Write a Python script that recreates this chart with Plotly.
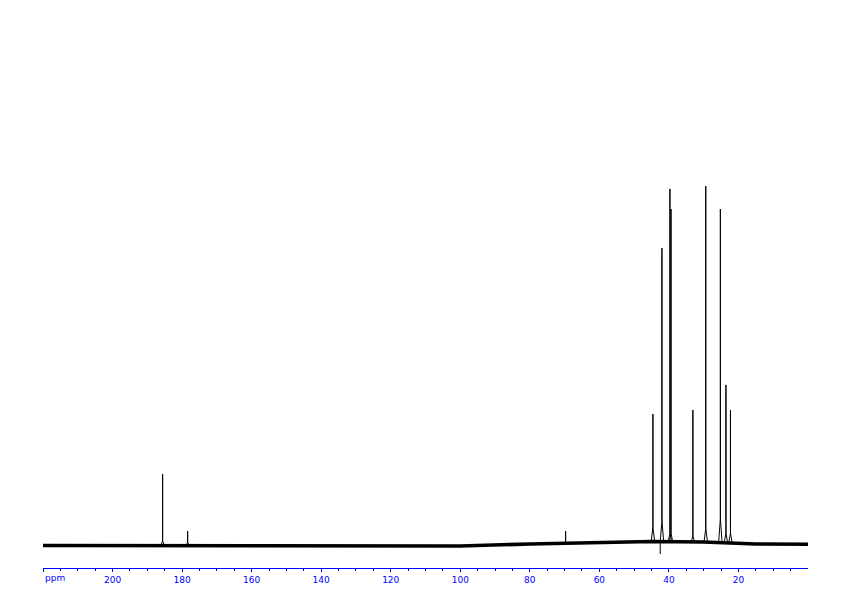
import numpy as np
import plotly.graph_objects as go

# --- data (13C NMR spectrum) ---
peak_ppm = [185.6, 178.4, 69.7, 44.6, 42.0, 39.7, 39.4, 33.1, 29.4, 25.2, 23.6, 22.3]
peak_top = [19.8, 3.9, 3.9, 36.5, 82.7, 99.2, 93.6, 37.6, 100.0, 93.6, 44.6, 37.6]
peak_foot = [1.2, 0.8, 0.8, 5.0, 6.7, 3.3, 3.3, 2.5, 4.7, 7.5, 3.3, 3.3]

neg_ppm = [42.5]
neg_level = [-2.5]

baseline_ppm = [220, 190, 160, 140, 120, 100, 80, 60, 45, 30, 15, 0]
baseline_level = [-0.1, -0.2, -0.3, -0.35, -0.4, -0.3, 0.3, 0.7, 1.0, 0.85, 0.3, 0.25]

major_ticks = [220, 200, 180, 160, 140, 120, 100, 80, 60, 40, 20]
major_labels = ["", "200", "180", "160", "140", "120", "100", "80", "60", "40", "20"]
minor_ticks = [v for v in range(215, 0, -5) if v % 20 != 0]

BLUE = "#0000ff"

fig = go.Figure()

# baseline (noise band)
fig.add_trace(go.Scatter(x=baseline_ppm, y=baseline_level, mode="lines",
                         line=dict(color="black", width=3.5), hoverinfo="skip"))

# peaks as sticks with a small foot
xs, ys = [], []
for p, top, foot in zip(peak_ppm, peak_top, peak_foot):
    b = float(np.interp(-p, [-v for v in baseline_ppm], baseline_level))
    xs += [p + 0.5, p, p, p, p - 0.5, None]
    ys += [b, foot, top, foot, b, None]
for p, lv in zip(neg_ppm, neg_level):
    b = float(np.interp(-p, [-v for v in baseline_ppm], baseline_level))
    xs += [p, p, None]
    ys += [b, lv, None]
fig.add_trace(go.Scatter(x=xs, y=ys, mode="lines",
                         line=dict(color="black", width=1), hoverinfo="skip"))

fig.add_annotation(x=220, y=0, xref="x", yref="paper", text="ppm",
                   showarrow=False, xanchor="left", yanchor="top", yshift=-3,
                   font=dict(family="DejaVu Sans", size=9, color=BLUE))

fig.update_layout(
    width=834, height=588,
    margin=dict(l=35, r=34, t=0, b=28),
    paper_bgcolor="white", plot_bgcolor="white",
    showlegend=False,
    xaxis=dict(range=[220, 0], showgrid=False, zeroline=False,
               showline=True, linecolor=BLUE, linewidth=1,
               ticks="outside", ticklen=3, tickcolor=BLUE, tickwidth=1,
               tickmode="array", tickvals=major_ticks, ticktext=major_labels,
               tickfont=dict(family="DejaVu Sans", size=9, color=BLUE),
               minor=dict(tickmode="array", tickvals=minor_ticks, ticks="outside",
                          ticklen=2, tickcolor=BLUE, tickwidth=1)),
    yaxis=dict(range=[-6.4, 149.6], visible=False, showgrid=False, zeroline=False),
)

fig.write_html("out.html")
